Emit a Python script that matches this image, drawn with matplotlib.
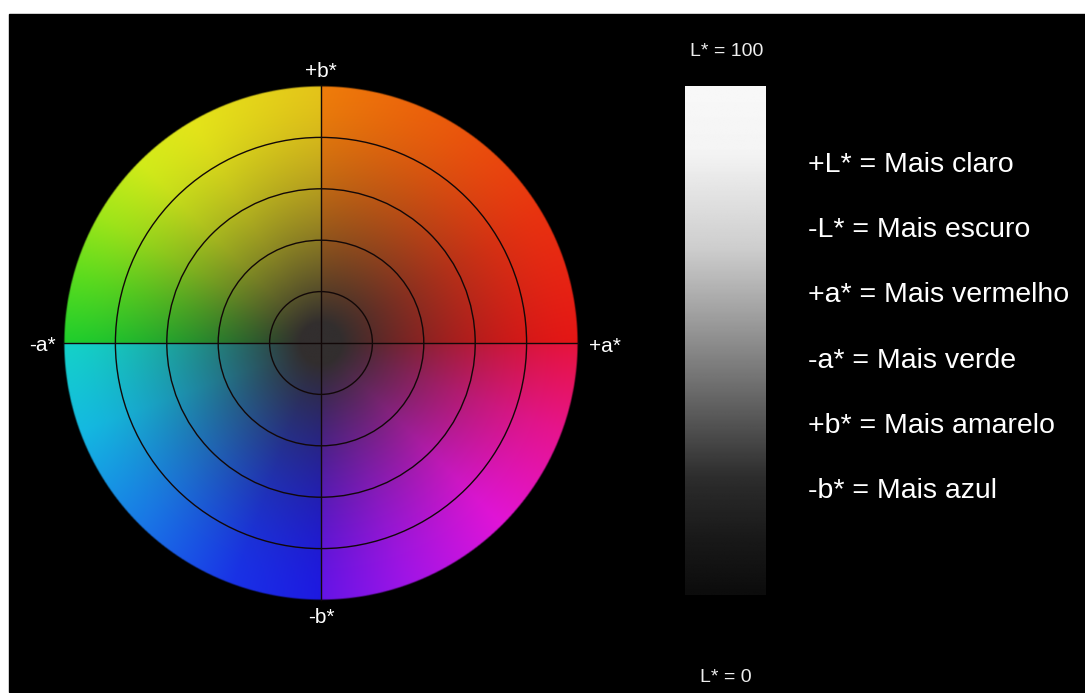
import numpy as np
import matplotlib
matplotlib.use("Agg")
import matplotlib.pyplot as plt
from matplotlib.patches import Rectangle, Circle

# edge colours of the a*/b* wheel, one list per quadrant (angle in degrees from +a*)
q1_angles = [0, 30, 60, 90]
q1_rgb = [(228, 22, 22), (232, 50, 16), (234, 90, 12), (238, 125, 10)]
q2_angles = [90, 120, 135, 150, 165, 180]
q2_rgb = [(228, 195, 25), (228, 228, 25), (210, 235, 25), (160, 230, 25), (90, 220, 30), (30, 205, 45)]
q3_angles = [180, 200, 225, 250, 270]
q3_rgb = [(20, 210, 200), (20, 185, 225), (25, 120, 230), (25, 50, 230), (30, 25, 225)]
q4_angles = [270, 290, 315, 340, 360]
q4_rgb = [(100, 20, 230), (160, 20, 230), (225, 20, 215), (230, 20, 140), (230, 20, 60)]
center_rgb = (50, 46, 46)

ring_levels = [0.2, 0.4, 0.6, 0.8]

# lightness bar: relative position from top -> grey level
bar_pos = [0.0, 0.126, 0.32, 0.52, 0.66, 0.77, 0.89, 1.0]
bar_gray = [248, 244, 205, 135, 85, 45, 25, 12]

axis_labels = ["+b*", "-b*", "-a*", "+a*"]
legend_lines = ["+L* = Mais claro", "-L* = Mais escuro", "+a* = Mais vermelho",
                "-a* = Mais verde", "+b* = Mais amarelo", "-b* = Mais azul"]

plt.rcParams["font.family"] = ["Liberation Sans", "DejaVu Sans"]

W, H = 1085, 693
fig = plt.figure(figsize=(W / 100, H / 100), dpi=100)
fig.patch.set_facecolor("white")
ax = fig.add_axes([0, 0, 1, 1])
ax.set_xlim(0, W)
ax.set_ylim(H, 0)
ax.axis("off")
ax.add_patch(Rectangle((9, 14), W - 9, H - 15, color="black", zorder=0))

# colour wheel
cx, cy, R = 321, 343, 257
n = 700
xs = np.linspace(-R - 2, R + 2, n)
X, Y = np.meshgrid(xs, xs)
r = np.hypot(X, Y)
ang = np.degrees(np.arctan2(-Y, X)) % 360

edge = np.zeros(X.shape + (3,))
quads = [(q1_angles, q1_rgb), (q2_angles, q2_rgb), (q3_angles, q3_rgb), (q4_angles, q4_rgb)]
for angles, rgb in quads:
    rgb = np.array(rgb, dtype=float)
    m = (ang >= angles[0]) & (ang < angles[-1])
    for c in range(3):
        edge[..., c][m] = np.interp(ang[m], angles, rgb[:, c])

s = np.clip((r / R - 0.08) / 0.92, 0, 1)
f = 1 - (1 - s) ** 1.6
img = np.array(center_rgb, dtype=float) + (edge - np.array(center_rgb)) * f[..., None]
alpha = np.clip((R - r) / 1.5 + 0.5, 0, 1)
rgba = np.dstack([np.clip(img, 0, 255) / 255.0, alpha])
ax.imshow(rgba, extent=(cx - R - 2, cx + R + 2, cy + R + 2, cy - R - 2),
          origin="upper", interpolation="bilinear", zorder=1)

line_col = "#120808"
for lv in ring_levels:
    ax.add_patch(Circle((cx, cy), lv * R, fill=False, edgecolor=line_col, lw=1.0, zorder=2))
ax.plot([cx, cx], [cy - R, cy + R], color=line_col, lw=1.0, zorder=2)
ax.plot([cx - R, cx + R], [cy, cy], color=line_col, lw=1.0, zorder=2)

lab_pos = [(321, 77), (321, 623), (42, 351), (605, 352)]
for txt, (x, y) in zip(axis_labels, lab_pos):
    ax.text(x, y, txt, color="white", fontsize=15, ha="center", va="baseline")

# lightness bar
rows = np.interp(np.linspace(0, 1, 400), bar_pos, bar_gray) / 255.0
bar = np.repeat(rows[:, None], 2, axis=1)
ax.imshow(bar, cmap="gray", vmin=0, vmax=1, extent=(685, 766, 595, 86),
          origin="upper", aspect="auto", interpolation="bilinear", zorder=1)
ax.text(727, 56, "L* = 100", color="#eeeeee", fontsize=14, ha="center", va="baseline")
ax.text(726, 682, "L* = 0", color="#eeeeee", fontsize=14, ha="center", va="baseline")

for i, txt in enumerate(legend_lines):
    ax.text(808, 172 + 65.2 * i, txt, color="white", fontsize=20.5, ha="left", va="baseline")

fig.savefig("out.png", dpi=100, facecolor=fig.get_facecolor())
